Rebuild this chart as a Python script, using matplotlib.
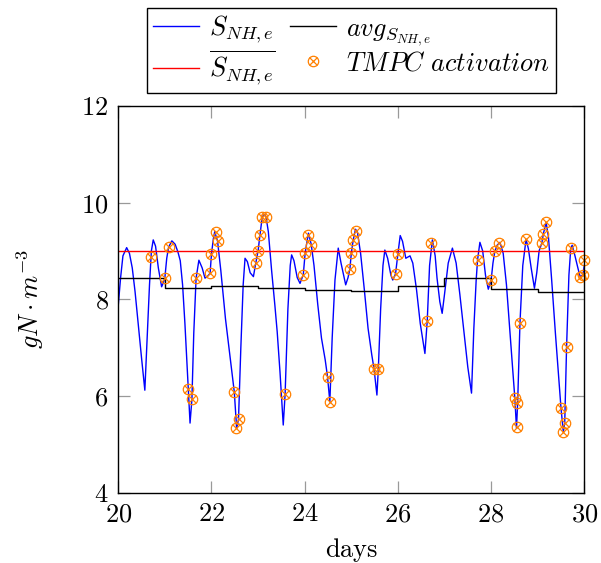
import matplotlib
matplotlib.use("Agg")
import matplotlib.pyplot as plt
from matplotlib.legend_handler import HandlerTuple
from matplotlib.ticker import FuncFormatter

plt.rcParams['mathtext.fontset'] = 'cm'
plt.rcParams['font.family'] = 'serif'
plt.rcParams['font.serif'] = ['cmr10', 'DejaVu Serif']

# S_NH,e effluent ammonia
days = [
    20.00, 20.05, 20.10, 20.18, 20.24, 20.30, 20.36, 20.43, 20.50, 20.57,
    20.62, 20.67, 20.71, 20.75, 20.80, 20.86, 20.93, 20.97, 21.00, 21.04,
    21.08, 21.15, 21.22, 21.28, 21.33, 21.38, 21.43, 21.49, 21.54, 21.58,
    21.62, 21.67, 21.73, 21.80, 21.86, 21.90, 21.97, 22.00, 22.04, 22.07,
    22.10, 22.13, 22.20, 22.30, 22.40, 22.49, 22.54, 22.58, 22.63, 22.68,
    22.72, 22.77, 22.83, 22.90, 22.95, 23.00, 23.04, 23.09, 23.13, 23.17,
    23.22, 23.29, 23.36, 23.41, 23.47, 23.54, 23.58, 23.64, 23.69, 23.72,
    23.77, 23.84, 23.90, 23.97, 24.01, 24.08, 24.14, 24.20, 24.28, 24.36,
    24.44, 24.49, 24.54, 24.59, 24.65, 24.72, 24.78, 24.88, 24.93, 24.97,
    25.00, 25.04, 25.09, 25.13, 25.20, 25.28, 25.36, 25.44, 25.49, 25.55,
    25.58, 25.63, 25.68, 25.72, 25.78, 25.85, 25.89, 25.95, 26.00, 26.05,
    26.10, 26.17, 26.26, 26.32, 26.40, 26.48, 26.58, 26.63, 26.68, 26.74,
    26.80, 26.84, 26.90, 26.95, 27.00, 27.08, 27.17, 27.25, 27.33, 27.42,
    27.50, 27.58, 27.63, 27.68, 27.71, 27.76, 27.82, 27.88, 27.94, 28.00,
    28.04, 28.08, 28.13, 28.19, 28.26, 28.33, 28.40, 28.46, 28.51, 28.545,
    28.57, 28.62, 28.68, 28.75, 28.80, 28.86, 28.93, 28.98, 29.03, 29.09,
    29.12, 29.18, 29.23, 29.30, 29.38, 29.45, 29.50, 29.55, 29.58, 29.62,
    29.67, 29.71, 29.74, 29.80, 29.87, 29.91, 29.97, 30.00,
]
s_nh = [
    7.88, 8.45, 8.90, 9.07, 8.95, 8.65, 8.16, 7.47, 6.78, 6.12,
    7.20, 8.30, 9.00, 9.23, 9.10, 8.65, 8.26, 8.35, 8.45, 8.85,
    9.08, 9.21, 9.14, 8.98, 8.80, 8.30, 7.50, 6.40, 5.44, 5.93,
    7.30, 8.44, 8.81, 8.65, 8.44, 8.46, 8.54, 8.94, 9.25, 9.40,
    9.30, 9.21, 8.60, 7.60, 6.80, 6.08, 5.33, 5.52, 7.00, 8.30,
    8.85, 8.78, 8.55, 8.47, 8.75, 9.00, 9.33, 9.71, 9.75, 9.71,
    9.40, 8.60, 7.88, 7.33, 6.50, 5.40, 6.04, 7.80, 8.70, 8.92,
    8.80, 8.45, 8.33, 8.51, 8.96, 9.37, 9.14, 8.70, 7.90, 7.20,
    6.75, 6.40, 5.88, 7.20, 8.40, 9.06, 8.75, 8.30, 8.45, 8.63,
    8.95, 9.22, 9.45, 9.40, 8.95, 8.20, 7.40, 6.85, 6.55, 6.02,
    6.55, 7.80, 8.70, 9.02, 8.85, 8.50, 8.40, 8.53, 8.94, 9.32,
    9.20, 8.85, 8.90, 8.75, 8.20, 7.50, 6.88, 7.56, 8.70, 9.23,
    8.90, 8.44, 7.95, 7.71, 8.10, 8.75, 9.06, 8.75, 8.10, 7.30,
    6.60, 6.06, 7.40, 8.40, 8.82, 9.18, 9.00, 8.50, 8.21, 8.39,
    8.75, 8.99, 9.12, 9.18, 8.95, 8.30, 7.40, 6.60, 5.95, 5.33,
    5.86, 7.52, 8.70, 9.24, 9.05, 8.65, 8.23, 8.55, 9.00, 9.17,
    9.35, 9.59, 9.30, 8.40, 7.30, 6.40, 5.75, 5.26, 5.44, 7.02,
    8.50, 9.06, 9.12, 8.90, 8.62, 8.47, 8.50, 8.70,
]

# daily average of S_NH,e
avg_days = [20, 21, 22, 23, 24, 25, 26, 27, 28, 29, 30]
avg_vals = [8.45, 8.23, 8.28, 8.23, 8.20, 8.17, 8.28, 8.44, 8.21, 8.16, 8.16]

# limit
limit_days = [20, 30]
limit_vals = [9.0, 9.0]

# TMPC activation instants
tmpc_days = [
    20.70, 21.00, 21.08, 21.50, 21.58, 21.67, 21.97, 22.00, 22.09, 22.13,
    22.49, 22.53, 22.58, 22.95, 23.00, 23.04, 23.09, 23.17, 23.58, 23.97,
    24.01, 24.08, 24.14, 24.49, 24.54, 24.97, 25.00, 25.04, 25.11, 25.49,
    25.58, 25.95, 26.00, 26.63, 26.72, 27.71, 28.00, 28.08, 28.17, 28.51,
    28.55, 28.56, 28.62, 28.75, 29.09, 29.12, 29.18, 29.50, 29.54, 29.59,
    29.62, 29.71, 29.91, 29.97, 30.00,
]
tmpc_vals = [
    8.88, 8.45, 9.08, 6.14, 5.93, 8.44, 8.54, 8.94, 9.40, 9.21,
    6.08, 5.33, 5.52, 8.75, 9.00, 9.33, 9.71, 9.71, 6.04, 8.51,
    8.96, 9.34, 9.12, 6.40, 5.87, 8.63, 8.95, 9.22, 9.41, 6.55,
    6.55, 8.53, 8.94, 7.56, 9.16, 8.82, 8.39, 8.99, 9.16, 5.95,
    5.36, 5.86, 7.52, 9.24, 9.17, 9.35, 9.59, 5.75, 5.26, 5.44,
    7.02, 9.06, 8.47, 8.50, 8.81,
]

FS = 19
ORANGE = '#FF8000'

fig = plt.figure(figsize=(6.01, 5.63), dpi=100)
ax = fig.add_axes([0.1968, 0.1249, 0.7754, 0.6868])

l_s, = ax.plot(days, s_nh, color='#0000FF', lw=1.0)
l_avg, = ax.step(avg_days, avg_vals, where='post', color='black', lw=1.0)
l_lim, = ax.plot(limit_days, limit_vals, color='#FF0000', lw=1.0)
m_o, = ax.plot(tmpc_days, tmpc_vals, ls='none', marker='o', ms=7.5,
               mfc='none', mec=ORANGE, mew=0.9, clip_on=False)
m_x, = ax.plot(tmpc_days, tmpc_vals, ls='none', marker='x', ms=5.3,
               mec=ORANGE, mew=0.9, clip_on=False)

ax.set_xlim(20, 30)
ax.set_ylim(4, 12)
ax.set_xticks([20, 22, 24, 26, 28, 30])
ax.set_yticks([4, 6, 8, 10, 12])
fmt = FuncFormatter(lambda v, _: f'${v:g}$')
ax.xaxis.set_major_formatter(fmt)
ax.yaxis.set_major_formatter(fmt)
ax.tick_params(direction='in', length=8.4, width=0.9, color='#999999',
               labelsize=FS, pad=7, top=True, right=True)
for sp in ax.spines.values():
    sp.set_linewidth(1.0)

ax.set_xlabel(r'$\mathrm{days}$', fontsize=FS)
ax.set_ylabel(r'$gN\cdot m^{-3}$', fontsize=FS)
ax.xaxis.set_label_coords(0.5, -0.111)
ax.yaxis.set_label_coords(-0.155, 0.5)

# matplotlib fills columns first: col 1 = blue, red; col 2 = black, marker
leg = ax.legend(
    [l_s, l_lim, l_avg, (m_o, m_x)],
    [r'$S_{NH,e}$', r'$\overline{S_{NH,e}}$', r'$avg_{S_{NH,e}}$',
     r'$TMPC\ activation$'],
    handler_map={tuple: HandlerTuple(ndivide=1)},
    ncol=2, loc='lower center', bbox_to_anchor=(0.5, 1.033),
    borderaxespad=0, fontsize=FS, frameon=True, fancybox=False,
    framealpha=1, edgecolor='black', handlelength=1.75, handletextpad=0.4,
    columnspacing=0.5, labelspacing=0.15, borderpad=0.22,
)
leg.get_frame().set_linewidth(1.0)

fig.savefig('out.png', dpi=100)
